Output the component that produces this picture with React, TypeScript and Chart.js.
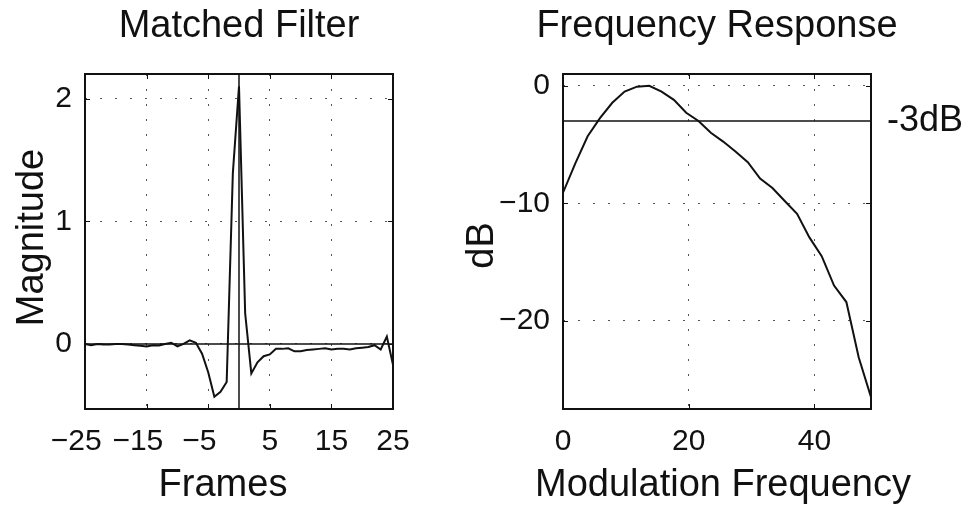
import React, { useEffect, useRef } from "react";
import { Chart, registerables } from "chart.js";

Chart.register(...registerables);

// Matched filter impulse response, one value per frame
const FRAMES = [
  -25, -24, -23, -22, -21, -20, -19, -18, -17, -16, -15, -14, -13, -12, -11, -10, -9, -8, -7, -6, -5, -4, -3, -2, -1,
  0, 1, 2, 3, 4, 5, 6, 7, 8, 9, 10, 11, 12, 13, 14, 15, 16, 17, 18, 19, 20, 21, 22, 23, 24, 25,
];
const MAGNITUDE = [
  0.0, -0.01, 0.0, -0.005, -0.005, 0.0, 0.0, -0.005, -0.01, -0.015, -0.02, -0.01, -0.012, 0.0, 0.01, -0.02, 0.0, 0.03,
  0.01, -0.08, -0.23, -0.43, -0.39, -0.31, 1.39, 2.1, 0.25, -0.24, -0.15, -0.1, -0.085, -0.04, -0.04, -0.035, -0.06,
  -0.06, -0.05, -0.045, -0.04, -0.035, -0.045, -0.04, -0.04, -0.045, -0.035, -0.03, -0.025, -0.01, -0.045, 0.06, -0.17,
];
const FRAME_TICKS = [-25, -15, -5, 5, 15, 25];
const MAGNITUDE_TICKS = [0, 1, 2];
const FRAME_RANGE = [-25, 25];
const MAGNITUDE_RANGE = [-0.53, 2.2];

// Frequency response of the filter in dB
const MOD_FREQ = [
  0, 1.96, 3.92, 5.88, 7.84, 9.8, 11.76, 13.72, 15.68, 17.64, 19.6, 21.56, 23.52, 25.48, 27.44, 29.4, 31.36, 33.32,
  35.28, 37.24, 39.2, 41.16, 43.12, 45.08, 47.04, 49,
];
const RESPONSE_DB = [
  -9.1, -6.6, -4.3, -2.75, -1.45, -0.5, -0.08, 0.0, -0.5, -1.2, -2.3, -3.0, -4.0, -4.75, -5.6, -6.5, -7.9, -8.7, -9.8,
  -10.9, -12.9, -14.5, -17.0, -18.4, -23.1, -26.5,
];
const FREQ_TICKS = [0, 20, 40];
const DB_TICKS = [0, -10, -20];
const FREQ_RANGE = [0, 49];
const DB_RANGE = [-27.5, 1];
const CUTOFF_DB = -3;

const FONT = "'Liberation Sans', Arial, sans-serif";
const INK = "#111";
const TITLE_SIZE = 38;
const TICK_SIZE = 30;

const minus = (v: number) => (v < 0 ? `\u2212${Math.abs(v)}` : `${v}`);

type Panel = {
  title: string;
  titleDx: number;
  xTitle: string;
  xTitleDx: number;
  yTitle: string;
  yTitleX: number;
  yTitleDy: number;
  xRange: number[];
  yRange: number[];
  xTicks: number[];
  yTicks: number[];
  yWidth: number;
  rightWidth: number;
  rightTicks: number[];
  rightLabel: (v: number) => string;
};

// box round the plot area with short inward tick marks on all four sides
function framePlugin(p: Panel) {
  return {
    id: "frame",
    afterDraw(chart: any) {
      const { ctx, chartArea: a } = chart;
      const xs = chart.scales.x;
      const ys = chart.scales.y;
      const L = 5;
      ctx.save();
      ctx.strokeStyle = INK;
      ctx.lineWidth = 1;
      ctx.beginPath();
      p.xTicks.forEach((v) => {
        const px = Math.round(xs.getPixelForValue(v)) + 0.5;
        if (px <= a.left + 2 || px >= a.right - 2) return;
        ctx.moveTo(px, a.bottom);
        ctx.lineTo(px, a.bottom - L);
        ctx.moveTo(px, a.top);
        ctx.lineTo(px, a.top + L);
      });
      p.yTicks.forEach((v) => {
        const py = Math.round(ys.getPixelForValue(v)) + 0.5;
        if (py <= a.top + 2 || py >= a.bottom - 2) return;
        ctx.moveTo(a.left, py);
        ctx.lineTo(a.left + L, py);
        ctx.moveTo(a.right, py);
        ctx.lineTo(a.right - L, py);
      });
      ctx.stroke();
      ctx.lineWidth = 2;
      ctx.strokeRect(Math.round(a.left), Math.round(a.top), Math.round(a.right - a.left), Math.round(a.bottom - a.top));
      ctx.restore();
    },
  };
}

// panel title, axis titles and x tick labels (digits centred on the tick, minus hanging to the left)
function textPlugin(p: Panel) {
  return {
    id: "texts",
    afterDraw(chart: any) {
      const { ctx, chartArea: a } = chart;
      const cx = (a.left + a.right) / 2;
      const cy = (a.top + a.bottom) / 2;
      ctx.save();
      ctx.fillStyle = INK;
      ctx.textBaseline = "alphabetic";
      ctx.font = `${TITLE_SIZE}px ${FONT}`;
      ctx.textAlign = "center";
      ctx.fillText(p.title, cx + p.titleDx, 37);
      ctx.fillText(p.xTitle, cx + p.xTitleDx, 496);
      ctx.save();
      ctx.translate(p.yTitleX, cy + p.yTitleDy);
      ctx.rotate(-Math.PI / 2);
      ctx.fillText(p.yTitle, 0, 0);
      ctx.restore();
      ctx.font = `${TICK_SIZE}px ${FONT}`;
      ctx.textAlign = "left";
      p.xTicks.forEach((v) => {
        const px = chart.scales.x.getPixelForValue(v);
        const label = minus(v);
        const dw = ctx.measureText(String(Math.abs(v))).width;
        const fw = ctx.measureText(label).width;
        ctx.fillText(label, px - dw / 2 - (fw - dw), a.bottom + 41);
      });
      ctx.restore();
    },
  };
}

function buildOptions(p: Panel) {
  const tickFont = { family: FONT, size: TICK_SIZE };
  const grid = { display: true, color: "#555", lineWidth: 1, drawTicks: false };
  const border = { display: false, dash: [2, 13] };
  const plain = { display: false };
  return {
    responsive: false,
    animation: false,
    events: [],
    layout: { padding: 0 },
    plugins: { legend: { display: false }, tooltip: { enabled: false }, title: { display: false } },
    scales: {
      x: {
        type: "linear",
        position: "bottom",
        min: p.xRange[0],
        max: p.xRange[1],
        afterBuildTicks: (s: any) => {
          s.ticks = p.xTicks.map((value) => ({ value }));
        },
        afterFit: (s: any) => {
          s.height = 101;
        },
        ticks: { display: false },
        grid,
        border,
      },
      x2: {
        type: "linear",
        position: "top",
        min: p.xRange[0],
        max: p.xRange[1],
        afterFit: (s: any) => {
          s.height = 74;
        },
        ticks: { display: false },
        grid: plain,
        border: plain,
      },
      y: {
        type: "linear",
        position: "left",
        min: p.yRange[0],
        max: p.yRange[1],
        afterBuildTicks: (s: any) => {
          s.ticks = p.yTicks.map((value) => ({ value }));
        },
        afterFit: (s: any) => {
          s.width = p.yWidth;
        },
        ticks: { font: tickFont, color: INK, padding: 13, autoSkip: false, callback: (v: any) => minus(Number(v)) },
        grid,
        border,
      },
      y2: {
        type: "linear",
        position: "right",
        min: p.yRange[0],
        max: p.yRange[1],
        afterBuildTicks: (s: any) => {
          s.ticks = p.rightTicks.map((value) => ({ value }));
        },
        afterFit: (s: any) => {
          s.width = p.rightWidth;
        },
        ticks: {
          display: p.rightTicks.length > 0,
          font: { family: FONT, size: 36 },
          color: INK,
          padding: 8,
          autoSkip: false,
          callback: (v: any) => p.rightLabel(Number(v)),
        },
        grid: plain,
        border: plain,
      },
    },
  };
}

const curve = (xs: number[], ys: number[]) => xs.map((x, i) => ({ x, y: ys[i] }));

const lineStyle = (width: number) => ({
  borderColor: INK,
  borderWidth: width,
  pointRadius: 0,
  tension: 0,
  fill: false,
  xAxisID: "x",
  yAxisID: "y",
});

function useChart(ref: React.RefObject<HTMLCanvasElement | null>, make: (c: HTMLCanvasElement) => Chart) {
  useEffect(() => {
    if (!ref.current) return;
    const chart = make(ref.current);
    return () => chart.destroy();
  }, []);
}

export default function App() {
  const leftRef = useRef<HTMLCanvasElement>(null);
  const rightRef = useRef<HTMLCanvasElement>(null);

  useChart(leftRef, (c) => {
    const panel: Panel = {
      title: "Matched Filter",
      titleDx: 0,
      xTitle: "Frames",
      xTitleDx: -16,
      yTitle: "Magnitude",
      yTitleX: 43,
      yTitleDy: -4,
      xRange: FRAME_RANGE,
      yRange: MAGNITUDE_RANGE,
      xTicks: FRAME_TICKS,
      yTicks: MAGNITUDE_TICKS,
      yWidth: 85,
      rightWidth: 47,
      rightTicks: [],
      rightLabel: () => "",
    };
    return new Chart(c, {
      type: "line",
      data: {
        datasets: [
          { data: curve(FRAME_RANGE, [0, 0]), ...lineStyle(1.5) },
          { data: curve([0, 0], MAGNITUDE_RANGE), ...lineStyle(1.5) },
          { data: curve(FRAMES, MAGNITUDE), ...lineStyle(2) },
        ],
      },
      options: buildOptions(panel) as any,
      plugins: [framePlugin(panel), textPlugin(panel)],
    });
  });

  useChart(rightRef, (c) => {
    const panel: Panel = {
      title: "Frequency Response",
      titleDx: 0,
      xTitle: "Modulation Frequency",
      xTitleDx: 6,
      yTitle: "dB",
      yTitleX: 53,
      yTitleDy: 4,
      xRange: FREQ_RANGE,
      yRange: DB_RANGE,
      xTicks: FREQ_TICKS,
      yTicks: DB_TICKS,
      yWidth: 123,
      rightWidth: 98,
      rightTicks: [CUTOFF_DB],
      rightLabel: (v) => `${v}dB`,
    };
    return new Chart(c, {
      type: "line",
      data: {
        datasets: [
          { data: curve(FREQ_RANGE, [CUTOFF_DB, CUTOFF_DB]), ...lineStyle(1.5) },
          { data: curve(MOD_FREQ, RESPONSE_DB), ...lineStyle(2) },
        ],
      },
      options: buildOptions(panel) as any,
      plugins: [framePlugin(panel), textPlugin(panel)],
    });
  });

  return (
    <div style={{ position: "absolute", left: 0, top: 0, width: 969, height: 510, background: "#fff" }}>
      <canvas ref={leftRef} width={440} height={510} style={{ position: "absolute", left: 0, top: 0 }} />
      <canvas ref={rightRef} width={529} height={510} style={{ position: "absolute", left: 440, top: 0 }} />
    </div>
  );
}
